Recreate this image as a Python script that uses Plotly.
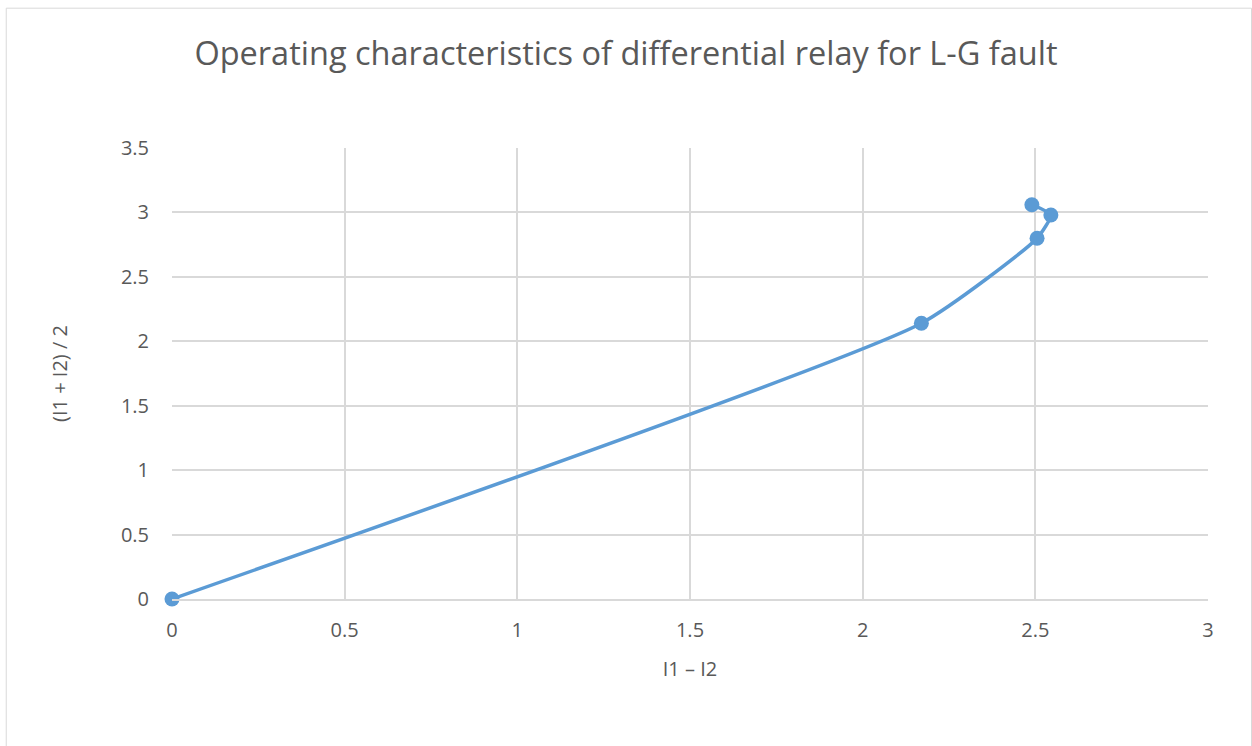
import plotly.graph_objects as go

x_vals = [0, 2.17, 2.505, 2.545, 2.49]
y_vals = [0, 2.14, 2.80, 2.98, 3.06]
x_ticks = [0, 0.5, 1, 1.5, 2, 2.5, 3]
x_tick_labels = ["0", "0.5", "1", "1.5", "2", "2.5", "3"]
y_ticks = [0, 0.5, 1, 1.5, 2, 2.5, 3, 3.5]
y_tick_labels = ["0", "0.5", "1", "1.5", "2", "2.5", "3", "3.5"]

color = "#5B9BD5"
txt = "#595959"
font_family = "Open Sans, Liberation Sans, sans-serif"

fig = go.Figure()
fig.add_trace(go.Scatter(
    x=x_vals, y=y_vals, mode="lines+markers",
    line=dict(color=color, width=3.5, shape="spline", smoothing=0.5),
    marker=dict(color=color, size=15),
    cliponaxis=False,
    showlegend=False,
))

fig.update_layout(
    width=1252, height=746,
    paper_bgcolor="white", plot_bgcolor="white",
    margin=dict(l=172, r=44, t=148, b=147),
    title=dict(text="Operating characteristics of differential relay for L-G fault",
               x=0.5, xanchor="center", y=0.928, yanchor="middle",
               font=dict(family=font_family, size=32.5, color=txt)),
    font=dict(family=font_family, color=txt),
    xaxis=dict(range=[0, 3], tickvals=x_ticks, ticktext=x_tick_labels,
               showgrid=True, gridcolor="#D9D9D9", gridwidth=1.5,
               zeroline=False, showline=True, linecolor="#D9D9D9", linewidth=1.5,
               ticks="", tickfont=dict(size=20, color=txt), ticklabelstandoff=12,
               title=dict(text="I1 – I2", font=dict(size=20, color=txt), standoff=20)),
    yaxis=dict(range=[0, 3.5], tickvals=y_ticks, ticktext=y_tick_labels,
               showgrid=True, gridcolor="#D9D9D9", gridwidth=1.5,
               zeroline=False, showline=False,
               ticks="", tickfont=dict(size=20, color=txt), ticklabelstandoff=22,
               title=dict(text="(I1 + I2) / 2", font=dict(size=20, color=txt), standoff=47)),
    shapes=[dict(type="rect", xref="paper", yref="paper",
                 x0=-0.160, x1=1.042, y0=-0.33, y1=1.31,
                 line=dict(color="#D9D9D9", width=1), layer="below")],
)

fig.write_html("out.html")
